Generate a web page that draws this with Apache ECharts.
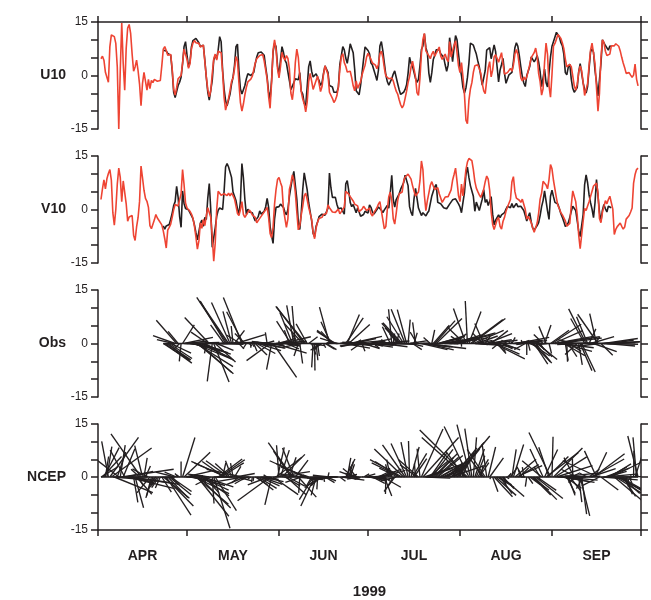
<!DOCTYPE html>
<html>
<head>
<meta charset="utf-8">
<script src="https://cdn.jsdelivr.net/npm/echarts@6/dist/echarts.min.js"></script>
<style>
  html, body { margin: 0; padding: 0; background: #fff; }
  #chart { width: 651px; height: 600px; }
</style>
</head>
<body>
<div id="chart"></div>
<script>
// Time axis: days counted from 1 April 1999
const monthNames = ['APR', 'MAY', 'JUN', 'JUL', 'AUG', 'SEP'];
const monthStarts = [0, 30, 61, 91, 122, 153, 183];
const yearLabel = '1999';
const panelNames = ['U10', 'V10', 'Obs', 'NCEP'];
const yLabelValues = [-15, 0, 15];

// Samples every half day
const step = 0.5;

// NCEP reanalysis 10 m wind components (m/s), first sample on day ncepStart
const ncepStart = 1;
const ncepU = [
  4.7, 5.4, 4.3, 0.9, 1.4, -1.9, 8.1, 11.4, 10.9, 10.9,
  9, 2.4, -15, 1.4, 14.7, 3.3, -4.1, 7.6, 13.3, 14.3,
  11.8, 6, 1.2, 2.4, 4.3, 1.4, -2.4, -8.5, -2.2, 0.9,
  1.4, -4.1, -1.1, -3.7, -1.4, -2, -1.1, -1, -1.6, -2,
  -1.4, 2.7, 7.4, 8.1, 7, 5.7, 6.2, 5.9, 1.9, -3.8,
  -5.5, -3.4, -0.9, -0.9, 0, 3.5, 7.4, 7.8, 4.5, 2,
  3.3, 7.5, 9.1, 9.8, 9.2, 8.9, 9, 8, 7.7, 8.5,
  4, -0.4, -3.9, -6, -4.3, 0.5, 4.6, 6, 4.3, 6.8,
  7.1, 6.4, 0.9, -6.2, -9.7, -9.2, -6.4, -4.2, -1.7, -0.7,
  1.8, 5.3, 4.1, -2.1, -7.6, -10, -8, -5.4, -3.3, -1.8,
  -2, -1, -0.2, -0.2, 3.5, 4.7, 5.2, 5.6, 6, 5.9,
  4.1, 1.6, -1, -5.9, -9.2, -1.9, 7.1, 10, 7.3, 1.9,
  -0.7, 2.5, 6.5,
  5.1, 4.3, 5.6, 4.8, 1.9, -4.9, -6.8, -3.2, 3.6, 7.4,
  5.1, -0.3, -4.5, -6.6, -7.9, -10.2, -7.4, -1.7, 0.6, -1.6,
  -3.9, -3.9, -1.4, -0.2, -2.2, -4.5, -3.1, 0.3, 2.7, 2.7,
  0.3, -4.7, -5.1, -6.4, -7.6, -6.9, -5.7, -3.3, 1.6, 5.3,
  6.1, 3.6, 2.6, 1, 1.3, 1.2, -0.6, -2.9, -4.3, -1.5,
  -3.6, -3.4, -1.7, 0.2, 1.6, 2.9, 5.1, 6.2, 6.5, 4.5,
  3.5, 3.7, 2.9, 1.9, 3.1, 6.1, 6.8, 5.1, 2.1, -0.1,
  -0.1, -0.9, -1, -0.7, -1.5, -3, -4.4, -5.2, -6.8, -8.2,
  -9.1, -8.3, -6.4, -4.4, -2, -0.3, 2.3, 4, 3.6, -0.3,
  -4.8, -5.6, -0.8, 6.1, 10.1, 11.8, 6.9, 7.2, 5.5, 4.7,
  6, 6.8, 5.4, 6.3, 7.1, 8, 5.5, 4.5, 5.3, 6,
  4.6, 3.9, 9.5, 5.2, 6.9, 8.5, 9.7, 6.4, 2.7, 0.8,
  3.6, -0.4, -5.3, -12.5, -13.5, -7, -3.8, -2, 0.9, 2.7,
  2.4, 3, 2.7, 0.7, -2.3, -4.3, -5.1, -1.3, 2.1, 3.9,
  -0.4, 1.5, 5.2, 5.8, 4.8, 3.7, 3.4, 6.4, 3.1, 0.4,
  0.9, 0.8, 0.6, 2, 1.2, 2.9, 6, 7.3, 5.9, 2.7,
  -0.7, -1.5, -0.4, -1.2, -0.4, 1.3, 3, 5, 5.1, 6.4,
  7.7, 5.4, 0.5, -1.7, -5.5, -3.7, 3.7, 9.1, 5.9, -2.9,
  -6.1, 0.3, 8.2, 9, 10.2, 11.5, 11.6, 10.4, 9.1, 7.5,
  4.6, 2.4, 1.9, 3.1, 2.5, -0.1, -2.9, -4.1, -2.5, 0.9,
  2.7, 1.4, -1.9, -5.6, -5.7, -2.2, 2.9, 7.1, 9.1, 8.8,
  3.3, -3.4, -10, -5, 4.9, 10, 9.3, 6.8, 5.6, 5.2,
  6, 8.3, 8.3, 8.3, 8.9, 9.2, 8.2, 6.9, 5.1, 3.5,
  2.2, 0.6, 0.6, 0.8, 0.1, -0.5, 0.1, 3.2, -1, -2.9
];
const ncepV = [
  2.8, 5.8, 8.3, 5.8, 8.6, 10.1, 11.2, 8.2, -0.9, -4.4,
  0, 7.1, 11.6, 9, 2.2, 8, 7.6, 1.6, -3.3, -2.1,
  -1.7, -1.7, -7.2, -8.7, -4.9, -2.3, 2.2, 12.2, 8.9, 5.4,
  3.1, 2.3, 0.6, -4.5, -5.4, -5.9, -2.9, -1.4, -2.4, -3,
  -3.1, -4.3, -6, -8.2, -10.8, -5.8, -5, -4.1, -2.2, -0.1,
  1.4, 1.4, 1, 0.6, 4.4, 11.2, 7, 1.8, 0.4, -0.1,
  -0.5, -1.3, -2.4, -4.7, -7.7, -11.1, -8.8, -3.7, -5.3, -2.8,
  -4.5, -1.8, 0.5, 0.8, -2.2, -7.5, -14.5, -9.5, 0, 5.1,
  4.9, 4, 4, 4.4, 4.4, 3.9, 4.6, 3.8, 4.6, 3.9,
  3, 1, -1.1, -1.7, 0, 2.2, -1.4, -2.2, -1.9, -0.8,
  -0.1, -0.7, -1.5, -1.2, -2.2, -3.7, -3.2, -2.5, -2.1, -1.3,
  -0.7, -0.1, 0.6, -2.2, -6.7, -7.9, -5, 1.5, 5.6, 8.4,
  9, 7.6, 6.4,
  0.1, -2.5, -5, -2.6, 5.6, 7.3, 9.7, 8.2, 4.8, -0.7,
  -5.7, -4.5, -1.5, 0.9, 3.8, 4.6, 2.8, 0.6, -1.1, -2.8,
  -6.4, -8.2, -5.2, -3.5, -2.5, -3, -2.2, -1.4, -1.6, -1.1,
  1.3, 0.5, 0, -0.7, -0.3, -0.8, -0.4, 0.1, -1.2, -0.6,
  -0.9, 0.7, 5.1, 5.4, 4.3, 3.6, 3.1, 2.4, 1.5, 1.9,
  1, -0.6, -0.7, 0.1, 0.9, 0.9, -0.3, -0.7, 0.4, -1.2,
  -1.8, -0.8, -0.2, 0.5, 1.5, 2.2, 1.9, -2.9, -5.4, -4.8,
  0, 3.6, 4.9, 2.6, -2.6, -4.1, -1.1, 2.5, 4.4, 4,
  4.9, 7.9, 9.1, 9.5, 9.9, 10.2, 8.5, 6.7, 5.2, 3.8,
  3.5, 4.9, 8, 13.6, 11.2, 4, -0.3, 2.5, 4.6, 6.8,
  7.8, 6.6, 5.6, 5.6, 6.1, 4.4, 3.2, 2, 1.9, 3.5,
  4, 3.6, 3.1, 5.5, 8.2, 9.8, 11.6, 7.9, 3.9, 2.2,
  7.1, 3.8, 7.3, 11.2, 13.3, 14.3, 14.8, 13.7, 11.2, 7.9,
  6, 5, 4.1, 3.4, 3.6, 5.7, 7.8, 9.4, 8.5, 5.4,
  -0.6, -4.2, -5.6, -5.2, -2.9, -2.2, -4.7, -5.5, -3.3, -2.2,
  -0.5, 0.7, 1.1, 2.8, 7.8, 9.2, 5, 3.2, 3.5, 2.6,
  2, 2.9, 2.8, 0, -2.7, -1.9, -2.2, -3.7, -5.1, -6.4,
  -6.1, -3.8, -1, 2.9, 4.6, 7.9, 7.8, 6.9, 5.8, 8.4,
  12.6, 11.4, 8.2, 5.7, 3.2, 1.1, 0.2, -0.9, -1.5, -1.4,
  -3.2, -4.7, -5.2, -3.9, 1.2, 5.2, 5.5, 2.2, -1.5, -7.1,
  -11, -10.5, -3.3, 0.3, -0.3, 1, 2.2, 2.4, 5.1, 6.6,
  7, 7.4, 4.6, -2.5, -3.7, -0.8, 0.8, 2.5, 1.6, 2.8,
  3.7, 4.1, 0.1, -7, -5.6, -4.8, -4.9, -3.8, -4.7, -5.5,
  -4.9, -2.7, -3, -1.7, -0.7, 0.4, 7.4, 9.8, 11.2, 11.6
];

// Observed (buoy) 10 m wind components (m/s), first sample on day obsStart
const obsStart = 22;
const obsU = [
  7.1, 7.6, 6.9, 6.2, 6.4, 5.7, 1.4, -4.7, -6.2, -5.7,
  -2.8, -1.9, -0.5, 3.3, 8.1, 9.5, 5.7, 2.4, 3.8, 8.1,
  9.8, 10.3, 10.4, 10.1, 9.2, 8.1, 8.1, 8.5, 4.3, -0.5,
  -4.7, -6.9, -7.3, -1.4, 4.3, 5.7, 4.7, 7.1, 10.9, 9.5,
  1.4, -3.8, -7.1, -8.5, -8.1, -5.2, -2.4, -0.5, 2.8, 8.1,
  8.8, 1.4, -3.8, -5.2, -4.7, -2.8, -0.9, 0.5, 0.7, 0,
  0.5, 0.9, 3.3, 5.2, 6.4, 6.6, 6.6, 6.4, 5.7, 2.4,
  -0.5, -4.7, -6.6, -1.4, 6.6, 9, 8.1, 2.8, 0, 4.3,
  8.1,
  6.5, 4.3, 3.5, 3.6, -1.4, -4, -3.5, -2, -0.9, -1.3,
  -1.2, 0.8, -4.4, -5.2, -7.8, -8.4, -3.1, 2.5, 4.1, 1.2,
  -0.4, 0.1, 0.5, 0.5, -1.4, -2.8, -2, 0.6, 2.7, 2.8,
  0.9, -2.8, -2.8, -3.2, -4.7, -5.2, -4.7, -3.3, 3.1, 5.6,
  8.1, 7.2, 4.9, 3.4, 5.9, 8.9, 9.1, 6.4, 1.8, -4.3,
  -4.3, -5.4, -2.7, 0.8, 4.5, 8, 8.3, 7, 6.1, 3.5,
  2.9, 1.5, 0.1, -1.4, 1.4, 8.3, 9.5, 6.9, 3.5, 0.2,
  -1.7, -2.7, -2.2, -0.9, 0.4, 1.3, 0.8, -2.3, -4, -5.3,
  -5.4, -4.7, -3.9, -2.6, 0.6, 5.1, 3.4, 2.6, 0.9, -0.8,
  -1.9, -1.1, 2.7, 7.3, 8.3, 11.7, 7.8, 6.4, 0.7, -1.9,
  0.8, 4.5, 5.7, 7.2, 7.6, 7.2, 6.1, 6, 5.1, 3,
  1.2, 2.9, 10.6, 7.6, 3.9, 7.7, 11.2, 10, 6, 2.4,
  0, -3.4, -4.9, -3.5, -0.6, 3.4, 9.1, 9.4, 8.5, 7.2,
  6, 4.1, 2.4, -0.1, -2.7, -2.5, 1.4, 7.1, 6.6, 7.8,
  4.7, 6.6, 8.6, 6.7, 2.5, -1.8, 1.5, 3.1, 4.8, 0.6,
  -2.2, -1.7, 0.2, 0.5, 0.9, 3.9, 7.8, 9.2, 8.2, 5.5,
  2.4, -0.3, -2.1, -3.1, 0, 0.5, 2.5, 5.2, 5, 3.8,
  4.5, 5.6, 3.8, 1.1, -3.1, -2.6, 1.8, -2, -3.2, 0.7,
  5.2, 8.2, 8.2, 10.8, 12.1, 12.3, 10.8, 9.2, 8.3, 5.9,
  0.8, 0.2, 2.4, 3.2, -1, -3.6, -4.7, -5.2, -3.4, 1,
  3.3, 3.8, -2.1, -3.9, -4.9, -3.1, 1.9, 6.6, 7.5, 6.5,
  1.4, -1.9, -5.7, -5.7, 3.3, 10, 9.5, 8.4, 7.9, 7.1,
  8.3, 8.1
];
const obsV = [
  -4.6, -5.5, -4.6, -4.8, -4.2, -2.7, -1, 1.1, 2.2, 6.5,
  3.4, -1.9, -5, 5.2, 1.7, 0.3, 0.7, -0.1, -0.5, -1.7,
  -2.6, -4.3, -6.5, -8.5, -8.1, -3.9, -3, -4.7, -2.2, -2.8,
  3.2, 7.3, 0, -10.6, -10.8, -5.2, -1.9, -0.2, 0.4, 0.2,
  0, 5.2, 11.9, 12.9, 11.9, 11.5, 9, 4.9, 3.7, 2.5,
  0.2, -1.5, 2.3, 12.9, 8.9, 2.8, -1.4, 0.1, -0.7, -1.2,
  -0.9, -2.2, -3.2, -2.8, -2, -0.4, -1.3, -1.3, -0.5, 0.7,
  3.1, 0.6, -4.8, -7.3, -9.5, -2.7, 0.6, 0.7, 0.8, 1.5,
  1.9,
  0.6, -0.7, -1.5, 0, 3.7, 6.3, 8.7, 10.7, 10.5, 2.9,
  -3.5, -5.6, -0.9, 5.6, 10.3, 10.4, 5.5, 1.9, -0.6, -3.1,
  -6.7, -7.6, -4.7, -3.5, -2, -1.9, -1.3, -1.2, -1.6, -1.7,
  0.4, 10.2, 6.1, 3.4, 3.7, 3.4, 1.5, 0.2, 0.5, 0.4,
  -0.5, -1.3, 7.2, 8.1, 5.3, 2, 0.8, 1.4, 1, -0.9,
  0.4, -0.7, -1.9, -2.2, -1.4, -0.5, -0.4, -1, 1.3, 0.6,
  -0.7, -1.3, -0.8, 0, 0.7, 0.7, -0.2, -0.9, -0.1, 0.4,
  1.1, 0.4, 4.7, 9.6, 2.8, 0.7, 2.8, 2.8, 4.4, 5.7,
  5.8, 7.5, 9.6, 9.5, 6.7, 0.8, -0.8, -1.7, 3, 5.9,
  3.2, 0.4, 0.1, -1.7, -0.9, -1.4, -1.8, -1, -0.4, 1.7,
  3.8, 5.1, 6.4, 7, 2, 2.2, 1.6, 1.1, 0.5, 0.2,
  0.2, -0.1, 1.5, 1.9, 2.7, 2.4, 3, 2.5, 1.6, 0.7,
  -0.9, 2, 4.7, 9.8, 11.9, 9, 6.7, 7, 3.7, -0.5,
  2.1, 0.9, -0.3, 0.1, 2.9, 5.6, 2, 2.8, 1.1, 0.9,
  3.6, -1.3, -4.3, -3, -2.8, -1.5, -2.3, -1.5, -1.8, -0.9,
  0.1, 0.9, 0.8, 0.5, 1.7, 0.5, 0.9, 1.7, 0.8, 0.5,
  0.9, 1, -0.3, -1.7, -3.2, -2, -0.9, -3.5, -5.2, -5.8,
  -5.5, -4.5, -3.7, -1.7, 0.8, 2.5, 5.2, 4.8, -0.4, -2.8,
  3.7, 5.4, 3.6, 2, 1.9, 1.5, 0.2, -1.2, -2.2, -3.4,
  -4.8, -5.1, -3.7, -2.2, -0.5, 0.9, 1.1, -0.3, -3.1, -6,
  -7.6, -8, -1.4, 7, 9.7, 7.5, 4.1, 1.9, 0.1, -2.3,
  1.9, 8.4, 8.2, -0.7, -3.3, -0.2, 1.4, 0.2, -0.7, 0.9,
  0.5, 0.5
];

const FONT = '"Liberation Sans", Arial, Helvetica, sans-serif';
const INK = '#231f20';
const RED = '#ee4433';

const gridTops = [22, 156, 290, 424];
const gridHeight = 107;

const dayOf = (start, i) => start + i * step;
const asLine = (start, vals) => vals.map((v, i) => [dayOf(start, i), v]);
const asSticks = (start, us, vs) => us.map((u, i) => [dayOf(start, i), u, vs[i]]);
const monthMids = monthNames.map((_, i) => (monthStarts[i] + monthStarts[i + 1]) / 2);

// One stick per sample: starts on the zero line and points along (u, v),
// using the same pixels-per-m/s scale horizontally and vertically
function renderStick(params, api) {
  const t = api.value(0), u = api.value(1), v = api.value(2);
  const base = api.coord([t, 0]);
  const unit = api.size([0, 1])[1];
  return {
    type: 'line',
    shape: { x1: base[0], y1: base[1], x2: base[0] + u * unit, y2: base[1] - v * unit },
    style: { stroke: INK, lineWidth: 1.35 }
  };
}

const axisLineStyle = { color: INK, width: 1.5 };

const grids = gridTops.map(top => ({ left: 98, right: 10, top: top, height: gridHeight }));

const xAxes = gridTops.map((_, i) => {
  const axis = {
    type: 'value', gridIndex: i, min: 0, max: 183,
    splitLine: { show: false },
    axisLine: { show: false, lineStyle: axisLineStyle },
    axisTick: { show: false },
    axisLabel: { show: false }
  };
  if (i === 0 || i === 3) {
    axis.position = i === 0 ? 'top' : 'bottom';
    axis.axisLine = { show: true, onZero: false, lineStyle: axisLineStyle };
    axis.axisTick = { show: true, customValues: monthStarts, length: 6, lineStyle: axisLineStyle };
  }
  if (i === 3) {
    axis.axisLabel = {
      show: true, customValues: monthMids, margin: 19,
      fontFamily: FONT, fontSize: 14, fontWeight: 'bold', color: INK,
      formatter: v => monthNames[monthMids.findIndex(m => Math.abs(m - v) < 0.01)] || ''
    };
    axis.name = yearLabel;
    axis.nameLocation = 'middle';
    axis.nameGap = 54;
    axis.nameTextStyle = { fontFamily: FONT, fontSize: 15, fontWeight: 'bold', color: INK };
  }
  return axis;
});

const yAxes = [];
gridTops.forEach((_, i) => {
  ['left', 'right'].forEach(side => {
    yAxes.push({
      type: 'value', gridIndex: i, position: side,
      min: -15, max: 15, interval: 5,
      splitLine: { show: false },
      axisLine: { show: true, onZero: false, lineStyle: axisLineStyle },
      axisTick: { show: true, length: 7, lineStyle: axisLineStyle },
      axisLabel: {
        show: side === 'left', margin: 10,
        fontFamily: FONT, fontSize: 12, color: INK,
        formatter: v => (yLabelValues.indexOf(v) >= 0 ? String(v) : '')
      }
    });
  });
});

const lineSeries = (grid, vals, start, color) => ({
  type: 'line', xAxisIndex: grid, yAxisIndex: grid * 2,
  data: asLine(start, vals), symbol: 'none', silent: true,
  lineStyle: { color: color, width: 1.6 }
});

const baseline = (grid, start, count) => ({
  type: 'line', xAxisIndex: grid, yAxisIndex: grid * 2,
  data: [[start, 0], [dayOf(start, count - 1), 0]], symbol: 'none', silent: true,
  lineStyle: { color: INK, width: 1.6 }
});

const stickSeries = (grid, start, us, vs) => ({
  type: 'custom', xAxisIndex: grid, yAxisIndex: grid * 2,
  data: asSticks(start, us, vs), encode: { x: 0, y: 2 },
  renderItem: renderStick, clip: true, silent: true
});

const option = {
  animation: false,
  backgroundColor: '#ffffff',
  grid: grids,
  xAxis: xAxes,
  yAxis: yAxes,
  graphic: panelNames.map((name, i) => ({
    type: 'text', x: 66, y: gridTops[i] + gridHeight / 2,
    style: { text: name, fontFamily: FONT, fontSize: 14, fontWeight: 'bold', fill: INK,
             align: 'right', verticalAlign: 'middle' }
  })),
  series: [
    lineSeries(0, obsU, obsStart, INK),
    lineSeries(0, ncepU, ncepStart, RED),
    lineSeries(1, obsV, obsStart, INK),
    lineSeries(1, ncepV, ncepStart, RED),
    baseline(2, obsStart, obsU.length),
    stickSeries(2, obsStart, obsU, obsV),
    baseline(3, ncepStart, ncepU.length),
    stickSeries(3, ncepStart, ncepU, ncepV)
  ]
};

const chart = echarts.init(document.getElementById('chart'), null, { renderer: 'canvas' });
chart.setOption(option);
</script>
</body>
</html>
